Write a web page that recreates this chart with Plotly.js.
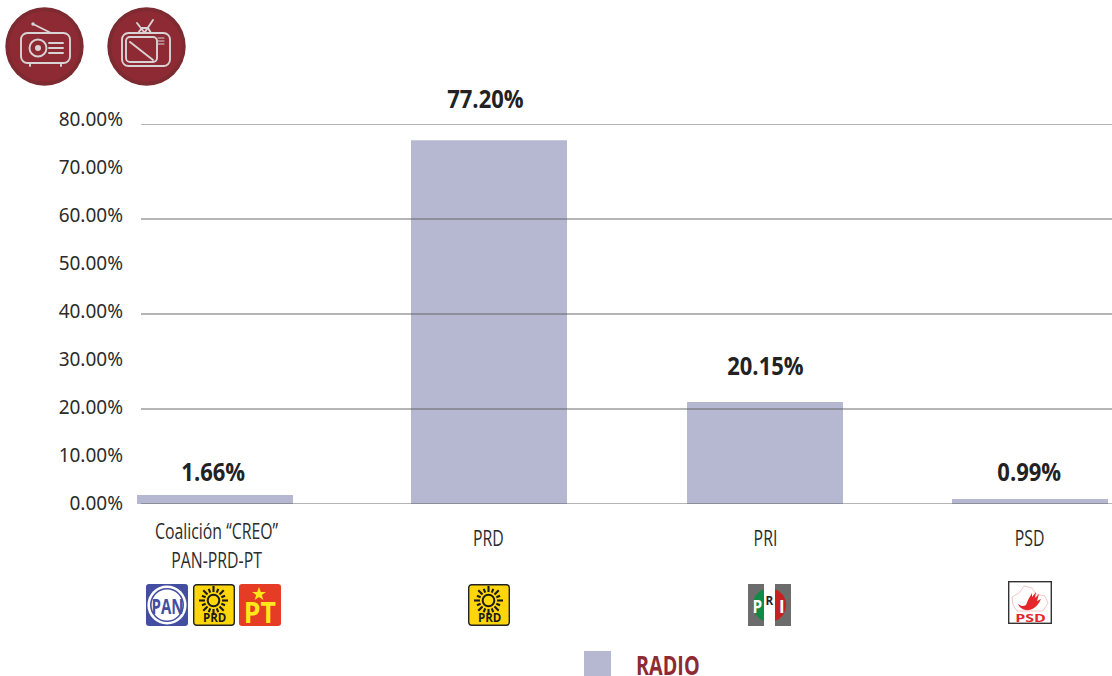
<!DOCTYPE html>
<html><head><meta charset="utf-8">
<script src="https://cdn.plot.ly/plotly-3.0.1.min.js"></script>
<style>html,body{margin:0;padding:0;background:#fff}#c{width:1112px;height:676px}</style></head>
<body><div id="c"></div>
<script>
var categories = ['Coalición “CREO”<br>PAN-PRD-PT', 'PRD', 'PRI', 'PSD'];
var barHeights = [1.9, 76.6, 21.5, 1.05];
var printedLabels = ['1.66%', '77.20%', '20.15%', '0.99%'];
var seriesName = 'RADIO';
var tickValues = [0, 10, 20, 30, 40, 50, 60, 70, 80];
var tickLabels = ['0.00%', '10.00%', '20.00%', '30.00%', '40.00%', '50.00%', '60.00%', '70.00%', '80.00%'];
var gridValues = [0, 20, 40, 60, 80];

// layout constants (page pixels)
var slots = [215, 489, 765, 1030];
var labelX = [213.5, 485.5, 765, 1029.5];
var labelY = [471, 98, 365, 471];
var catX = [216, 488, 765, 1029];
var catY = [544.5, 537, 537, 537];

var W = 1112, H = 676, L = 137, R = 0, T = 119, B = 172;
var PH = H - T - B;
function fx(x) { return (x - L) / (W - L - R); }
function fy(y) { return 1 - (y - T) / PH; }
var sans = '"Open Sans",sans-serif';
var body = '"Noto Sans","Open Sans",sans-serif';

function svg(w, h, inner) {
  return 'data:image/svg+xml;charset=utf-8,' + encodeURIComponent(
    '<svg xmlns="http://www.w3.org/2000/svg" width="' + w * 4 + '" height="' + h * 4 + '" viewBox="0 0 ' + w + ' ' + h + '">' + inner + '</svg>');
}
function img(src, x, y, w, h) {
  return {source: src, xref: 'paper', yref: 'paper', x: fx(x), y: fy(y), sizex: w / (W - L - R), sizey: h / PH,
    xanchor: 'left', yanchor: 'top', sizing: 'stretch', layer: 'above'};
}
var badge = '<circle cx="39.5" cy="39.5" r="39.2" fill="#7d2a31"/><circle cx="39.5" cy="39.5" r="35.5" fill="#8e2a33"/>';
var radioIcon = svg(79, 79, badge +
  '<g fill="none" stroke="#d8d3d4" stroke-width="1.9" stroke-linecap="round">' +
  '<rect x="16" y="26" width="49" height="30" rx="6.5"/>' +
  '<circle cx="33" cy="41" r="8.5"/>' +
  '<path d="M28 17 L46 26 M44 36 H58 M44 41 H58 M44 46 H58 M25 56 V59 M56 56 V59"/></g>' +
  '<circle cx="33" cy="41" r="3" fill="#d8d3d4"/><circle cx="28" cy="17" r="1.7" fill="#d8d3d4"/>');
var tvIcon = svg(79, 79, badge +
  '<g fill="none" stroke="#d8d3d4" stroke-width="1.9" stroke-linecap="round">' +
  '<rect x="15" y="26" width="48" height="33" rx="6.5"/>' +
  '<rect x="19" y="30" width="31" height="25" rx="4"/>' +
  '<path d="M23 35 L46 53 M31 26 L35 21 H41 L44 26 M30 16 L37 25 M46 13 L38 25"/>' +
  '<path stroke-width="1.2" d="M51 31 H57 M51 34 H57 M51 37 H57"/></g>');
var sunRays = '';
for (var a = 0; a < 16; a++) {
  var t = a * Math.PI / 8, outer = a % 2 ? 12.5 : 14.5;
  sunRays += '<line x1="' + (20.5 + 8.5 * Math.cos(t)) + '" y1="' + (16.5 + 8.5 * Math.sin(t)) + '" x2="' + (20.5 + outer * Math.cos(t)) + '" y2="' + (16.5 + outer * Math.sin(t)) + '" stroke="#1a1a1a" stroke-width="2.1"/>';
}
var prd = svg(42, 42, '<rect x=".7" y=".7" width="40.6" height="40.6" rx="3" fill="#ffd60a" stroke="#222" stroke-width="1.4"/>' + sunRays +
  '<circle cx="20.5" cy="16.5" r="5.8" fill="none" stroke="#1a1a1a" stroke-width="2"/>');
var pan = svg(42, 42, '<rect width="42" height="42" rx="3" fill="#444ea0"/><circle cx="21" cy="21" r="19.6" fill="#fff"/><circle cx="21" cy="21" r="17" fill="#444ea0"/><circle cx="21" cy="21" r="15.4" fill="#fff"/>');
var pt = svg(42, 42, '<rect width="42" height="42" rx="3" fill="#e63c26"/><polygon points="20,3 21.8,8 27,8 22.8,11 24.4,16 20,13 15.6,16 17.2,11 13,8 18.2,8" fill="#ffe81a"/>');
var pri = svg(43, 42, '<rect width="43" height="42" fill="#6c6c6c"/><rect x="16" width="11" height="42" fill="#fff"/>' +
  '<path d="M16 5 A17 17 0 0 0 16 37 Z" fill="#0f8a47"/><path d="M27 5 A17 17 0 0 1 27 37 Z" fill="#c8201f"/>');
var psd = svg(44, 43, '<rect x=".7" y=".7" width="42.6" height="41.6" fill="#fff" stroke="#333" stroke-width="1.4"/>' +
  '<path d="M4 16 L11 12 L16 5 L24 7 L28 13 L37 15 L40 22 L35 30 H9 L5 24 Z" fill="none" stroke="#f0b9b9" stroke-width=".8"/>' +
  '<path d="M10 23 C14 32 27 32 33 18 L29 20 L31 13 L27 17 L28 11 L24 16 L24 12 L20 19 L18 24 C15 26 13 25 10 23 Z" fill="#e5262b"/>');

var images = [
  img(radioIcon, 5, 7, 79, 79), img(tvIcon, 107, 7, 79, 79),
  img(pan, 146, 584, 42, 42), img(prd, 193, 584, 42, 42), img(pt, 239, 584, 42, 42),
  img(prd, 468, 584, 42, 42), img(pri, 748, 584, 43, 42), img(psd, 1008, 581, 44, 43)
];

var squeeze = [];
function txt(text, x, y, size, color, family, bold, ratio) {
  squeeze.push(ratio);
  return {text: bold ? '<b>' + text + '</b>' : text, xref: 'paper', yref: 'paper', x: fx(x), y: fy(y), xanchor: 'center', yanchor: 'middle',
    showarrow: false, font: {size: size, color: color, family: family}};
}
var annotations = [
  txt('PAN', 167, 605, 22, '#444ea0', sans, true, 0.68),
  txt('PRD', 214, 617.5, 11.5, '#1a1a1a', sans, true, 1),
  txt('PRD', 489, 617.5, 11.5, '#1a1a1a', sans, true, 1),
  txt('PT', 260, 612, 28, '#ffe81a', sans, true, 0.95),
  txt('P', 757, 606, 17, '#fff', sans, true, 0.9),
  txt('R', 769.5, 600, 13, '#222', sans, true, 0.9),
  txt('I', 782, 606, 17, '#fff', sans, true, 1),
  txt('PSD', 1030, 617.5, 10, '#e5262b', sans, true, 1.6),
  txt(seriesName, 668, 665, 26, '#8e2a33', sans, true, 0.76)
];
printedLabels.forEach(function (s, i) { annotations.push(txt(s, labelX[i], labelY[i], 25, '#222', sans, true, 0.88)); });
categories.forEach(function (s, i) { annotations.push(txt(s, catX[i], catY[i], 22, '#2b2b2b', sans, false, 0.72)); });

var shapes = [{type: 'rect', xref: 'paper', yref: 'paper', x0: fx(584), x1: fx(611), y0: fy(651), y1: fy(676), fillcolor: '#b5b8d0', line: {width: 0}}]
  .concat(gridValues.map(function (v) {
    return {type: 'line', xref: 'paper', yref: 'y', x0: fx(141), x1: 1, y0: v, y1: v, layer: 'above', line: {color: 'rgba(90,90,90,0.6)', width: 1.3}};
  }));

var gd = document.getElementById('c');
Plotly.newPlot(gd, [
  {type: 'bar', name: seriesName, x: slots, y: barHeights, width: 156, xaxis: 'x', yaxis: 'y',
   marker: {color: '#b5b8d0', line: {width: 0}}},
  {type: 'scatter', mode: 'markers', x: [slots[0], slots[0]], y: [0, 80], xaxis: 'x', yaxis: 'y2',
   marker: {opacity: 0}, hoverinfo: 'skip'}
], {
  width: W, height: H, showlegend: false, paper_bgcolor: '#fff', plot_bgcolor: 'rgba(0,0,0,0)',
  margin: {l: L, r: R, t: T, b: B, pad: 0},
  xaxis: {type: 'linear', range: [L, W - R], showticklabels: false, ticks: '', showgrid: false, zeroline: false, showline: false},
  yaxis: {domain: [0, 380 / PH], range: [0, 80], showticklabels: false, ticks: '', showgrid: false, zeroline: false, showline: false},
  yaxis2: {domain: [1 / PH, 1], range: [0, 80], anchor: 'x', tickmode: 'array', tickvals: tickValues, ticktext: tickLabels,
    showgrid: false, zeroline: false, showline: false, ticks: 'outside', ticklen: 9, tickcolor: 'rgba(0,0,0,0)',
    tickfont: {family: body, size: 20, color: '#2b2b2b'}},
  shapes: shapes, images: images, annotations: annotations
}, {staticPlot: true, displayModeBar: false}).then(function () {
  function fit(el, ratio) {
    if (ratio === 1) return;
    el.setAttribute('textLength', el.getComputedTextLength() * ratio);
    el.setAttribute('lengthAdjust', 'spacingAndGlyphs');
  }
  function fitText(textEl, ratio) {
    var lines = textEl.querySelectorAll('tspan.line');
    if (lines.length) { lines.forEach(function (l) { fit(l, ratio); }); } else { fit(textEl, ratio); }
  }
  gd.querySelectorAll('.annotation').forEach(function (g) {
    var idx = +g.getAttribute('data-index');
    fitText(g.querySelector('text'), squeeze[idx]);
  });
  gd.querySelectorAll('.y2tick text').forEach(function (t) { fitText(t, 0.95); });
});
</script></body></html>
